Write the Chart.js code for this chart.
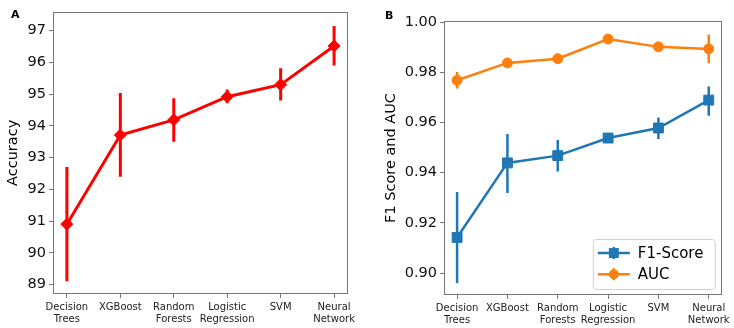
<!DOCTYPE html>
<html>
<head>
<meta charset="utf-8">
<script src="https://cdn.jsdelivr.net/npm/chart.js@4"></script>
<style>
  html, body { margin: 0; padding: 0; background: #fff; }
  #wrap { position: relative; width: 734px; height: 328px; overflow: hidden; }
  .panel { position: absolute; top: 0; width: 367px; height: 328px; }
  .tag { position: absolute; font: bold 11px 'DejaVu Sans', sans-serif; color: #000; }
</style>
</head>
<body>
<div id="wrap">
  <div class="panel" style="left:0"><canvas id="chartA"></canvas></div>
  <div class="panel" style="left:367px"><canvas id="chartB"></canvas></div>
  <div class="tag" style="left:11px;top:8px">A</div>
  <div class="tag" style="left:385px;top:9px">B</div>
</div>
<script>
var models = [["Decision", "Trees"], "XGBoost", ["Random", "Forests"], ["Logistic", "Regression"], "SVM", ["Neural", "Network"]];

var accuracy = [90.9, 93.71, 94.19, 94.92, 95.30, 96.52];
var accLow = [89.1, 92.4, 93.5, 94.71, 94.80, 95.90];
var accHigh = [92.7, 95.04, 94.87, 95.15, 95.82, 97.15];

var f1 = [0.9142, 0.9439, 0.9468, 0.9538, 0.9578, 0.9689];
var f1Low = [0.8961, 0.9319, 0.9405, 0.9528, 0.9534, 0.9627];
var f1High = [0.9323, 0.9554, 0.9530, 0.9548, 0.9620, 0.9743];

var auc = [0.9768, 0.9837, 0.9854, 0.9932, 0.9901, 0.9893];
var aucLow = [0.9735, 0.9830, 0.9848, 0.9928, 0.9896, 0.9837];
var aucHigh = [0.9801, 0.9844, 0.9860, 0.9936, 0.9906, 0.9950];

var accTicks = [89, 90, 91, 92, 93, 94, 95, 96, 97];
var scoreTicks = [0.90, 0.92, 0.94, 0.96, 0.98, 1.00];

Chart.defaults.font.family = "'DejaVu Sans', sans-serif";
Chart.defaults.color = '#000';
Chart.defaults.animation = false;

function points(values) {
  return values.map(function (v, i) { return { x: i, y: v }; });
}

// box round the plot, like matplotlib spines
var frame = {
  id: 'frame',
  afterDatasetsDraw: function (chart) {
    var a = chart.chartArea, ctx = chart.ctx;
    ctx.save();
    ctx.strokeStyle = '#777';
    ctx.lineWidth = 1;
    ctx.strokeRect(Math.round(a.left) + 0.5, Math.round(a.top) + 0.5,
      Math.round(a.right - a.left) - 1, Math.round(a.bottom - a.top) - 1);
    ctx.restore();
  }
};

// vertical confidence bars
var errorBars = {
  id: 'errorBars',
  beforeDatasetsDraw: function (chart) {
    var ctx = chart.ctx, xs = chart.scales.x, ys = chart.scales.y;
    chart.data.datasets.forEach(function (ds) {
      ctx.save();
      ctx.strokeStyle = ds.borderColor;
      ctx.lineWidth = ds.errWidth;
      ctx.beginPath();
      ds.low.forEach(function (lo, i) {
        var px = xs.getPixelForValue(i);
        ctx.moveTo(px, ys.getPixelForValue(lo));
        ctx.lineTo(px, ys.getPixelForValue(ds.high[i]));
      });
      ctx.stroke();
      ctx.restore();
    });
  }
};

function marker(ctx, style, r, x, y) {
  ctx.beginPath();
  if (style === 'circle') {
    ctx.arc(x, y, r, 0, Math.PI * 2);
  } else {
    var s = r * Math.SQRT1_2;
    ctx.rect(x - s, y - s, 2 * s, 2 * s);
  }
  ctx.fill();
}

// legend drawn inside the lower right corner, line + marker handles
var legendBox = {
  id: 'legendBox',
  afterDraw: function (chart) {
    var ctx = chart.ctx, a = chart.chartArea;
    var w = 122, h = 50;
    var left = a.right - 7 - w, top = a.bottom - 6 - h;
    ctx.save();
    ctx.beginPath();
    ctx.roundRect(left + 0.5, top + 0.5, w, h, 3);
    ctx.fillStyle = 'rgba(255,255,255,0.8)';
    ctx.fill();
    ctx.strokeStyle = '#d0d0d0';
    ctx.lineWidth = 1;
    ctx.stroke();
    chart.data.datasets.forEach(function (ds, i) {
      var yy = top + 14 + i * 21.3;
      ctx.strokeStyle = ds.borderColor;
      ctx.fillStyle = ds.borderColor;
      ctx.lineWidth = ds.borderWidth;
      ctx.beginPath();
      ctx.moveTo(left + 5, yy);
      ctx.lineTo(left + 37, yy);
      ctx.moveTo(left + 21, yy - 6);
      ctx.lineTo(left + 21, yy + 6);
      ctx.stroke();
      marker(ctx, ds.pointStyle, ds.pointRadius, left + 21, yy);
      ctx.fillStyle = '#000';
      ctx.font = "15px 'DejaVu Sans', sans-serif";
      ctx.textBaseline = 'middle';
      ctx.fillText(ds.label, left + 45, yy + 1);
    });
    ctx.restore();
  }
};

function xAxis(height) {
  return {
    type: 'linear',
    min: -0.26,
    max: 5.26,
    afterBuildTicks: function (s) {
      s.ticks = models.map(function (m, i) { return { value: i }; });
    },
    afterFit: function (s) { s.height = height; },
    ticks: {
      callback: function (v) { return models[v]; },
      font: { size: 10, lineHeight: 1.15 },
      color: '#222',
      padding: 4,
      maxRotation: 0,
      autoSkip: false
    },
    grid: { drawOnChartArea: false, tickLength: 4, color: '#777' },
    border: { display: false }
  };
}

function yAxis(min, max, tickList, digits, title, width, titlePad) {
  return {
    min: min,
    max: max,
    afterBuildTicks: function (s) {
      s.ticks = tickList.map(function (v) { return { value: v }; });
    },
    afterFit: function (s) { s.width = width; },
    ticks: {
      callback: function (v) { return v.toFixed(digits); },
      font: { size: 14.5 },
      color: '#111',
      padding: 3
    },
    grid: { drawOnChartArea: false, tickLength: 4, color: '#777' },
    border: { display: false },
    title: {
      display: true,
      text: title,
      font: { size: 14.5 },
      padding: { top: titlePad, bottom: 0 }
    }
  };
}

var chartA = new Chart(document.getElementById('chartA'), {
  type: 'line',
  data: {
    datasets: [{
      label: 'Accuracy',
      data: points(accuracy),
      low: accLow,
      high: accHigh,
      errWidth: 3,
      borderColor: '#ff0000',
      backgroundColor: '#ff0000',
      borderWidth: 3,
      pointStyle: 'rectRot',
      pointRadius: 6,
      pointBorderWidth: 1,
      tension: 0
    }]
  },
  options: {
    responsive: true,
    maintainAspectRatio: false,
    layout: { padding: { top: 7, right: 19, left: 0, bottom: 0 } },
    plugins: { legend: { display: false }, tooltip: { enabled: false } },
    scales: {
      x: xAxis(34),
      y: yAxis(88.7, 97.6, accTicks, 0, 'Accuracy', 53, 5)
    }
  },
  plugins: [errorBars, frame]
});

var chartB = new Chart(document.getElementById('chartB'), {
  type: 'line',
  data: {
    datasets: [{
      label: 'F1-Score',
      data: points(f1),
      low: f1Low,
      high: f1High,
      errWidth: 2.5,
      borderColor: '#1f77b4',
      backgroundColor: '#1f77b4',
      borderWidth: 2.5,
      pointStyle: 'rect',
      pointRadius: 7,
      pointBorderWidth: 1,
      tension: 0
    }, {
      label: 'AUC',
      data: points(auc),
      low: aucLow,
      high: aucHigh,
      errWidth: 2.5,
      borderColor: '#ff7f0e',
      backgroundColor: '#ff7f0e',
      borderWidth: 2.5,
      pointStyle: 'circle',
      pointRadius: 5,
      pointBorderWidth: 1,
      tension: 0
    }]
  },
  options: {
    responsive: true,
    maintainAspectRatio: false,
    layout: { padding: { top: 21, right: 7, left: 0, bottom: 0 } },
    plugins: { legend: { display: false }, tooltip: { enabled: false } },
    scales: {
      x: xAxis(33),
      y: yAxis(0.8913, 1.0004, scoreTicks, 2, 'F1 Score and AUC', 77, 16)
    }
  },
  plugins: [errorBars, frame, legendBox]
});
</script>
</body>
</html>
